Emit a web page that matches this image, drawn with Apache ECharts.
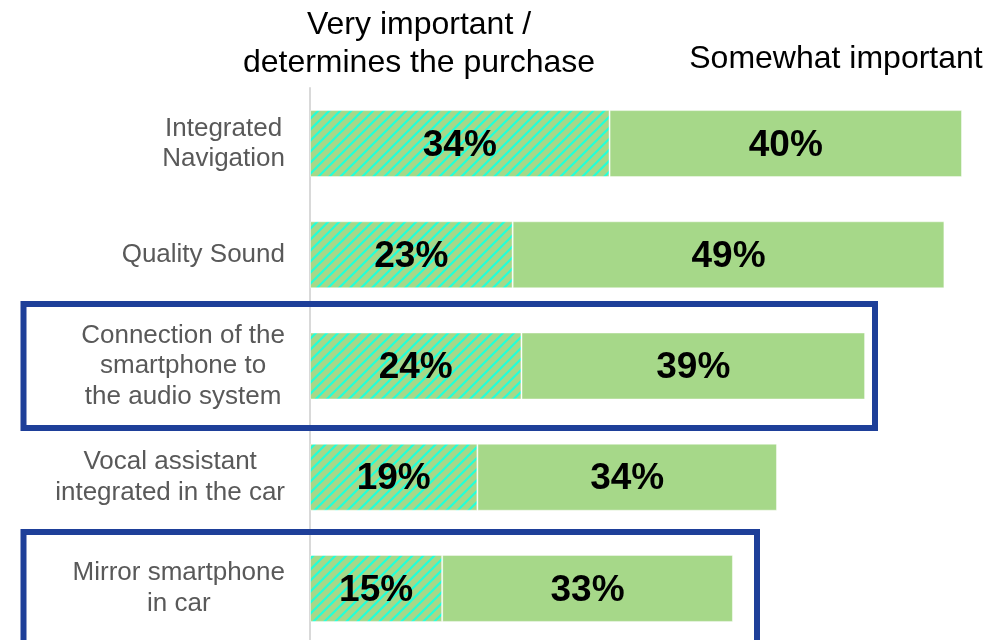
<!DOCTYPE html>
<html>
<head>
<meta charset="utf-8">
<script src="https://cdn.jsdelivr.net/npm/echarts@6/dist/echarts.min.js"></script>
<style>
  html, body { margin: 0; padding: 0; background: #fff; }
  #container { width: 997px; height: 640px; }
</style>
</head>
<body>
<div id="container"></div>
<script>
const features = [
  'Integrated\nNavigation',
  'Quality Sound',
  'Connection of the\nsmartphone to\nthe audio system',
  'Vocal assistant\nintegrated in the car',
  'Mirror smartphone\nin car'
];
const seriesNames = ['Very important /\ndetermines the purchase', 'Somewhat important'];
const veryImportant = [34, 23, 24, 19, 15];
const somewhatImportant = [40, 49, 39, 34, 33];

const GREEN = '#a6d889';
const CYAN = '#22ffd8';
const FONT = '"Liberation Sans", Arial, sans-serif';

// diagonal hatch tile for the first series
const makeHatch = () => {
  const size = 11;
  const c = document.createElement('canvas');
  c.width = size;
  c.height = size;
  const ctx = c.getContext('2d');
  ctx.fillStyle = GREEN;
  ctx.fillRect(0, 0, size, size);
  ctx.strokeStyle = CYAN;
  ctx.lineWidth = 2.2;
  ctx.beginPath();
  ctx.moveTo(-2, size + 2);
  ctx.lineTo(size + 2, -2);
  ctx.moveTo(-2, 2);
  ctx.lineTo(2, -2);
  ctx.moveTo(size - 2, size + 2);
  ctx.lineTo(size + 2, size - 2);
  ctx.stroke();
  return c;
};

const dom = document.getElementById('container');
const myChart = echarts.init(dom);

const barLabel = {
  show: true,
  position: 'inside',
  formatter: '{c}%',
  color: '#000',
  fontFamily: FONT,
  fontWeight: 'bold',
  fontSize: 37,
  offset: [0, 2]
};

const option = {
  animation: false,
  title: [
    {
      text: seriesNames[0],
      left: 419,
      top: 6,
      padding: 0,
      textAlign: 'center',
      textStyle: { fontFamily: FONT, fontWeight: 'normal', fontSize: 32, lineHeight: 38, color: '#000' }
    },
    {
      text: seriesNames[1],
      left: 836,
      top: 43,
      padding: 0,
      textAlign: 'center',
      textStyle: { fontFamily: FONT, fontWeight: 'normal', fontSize: 32, lineHeight: 32, color: '#000' }
    }
  ],
  grid: { left: 310, right: 35, top: 88, height: 556, outerBoundsMode: 'none' },
  xAxis: { type: 'value', min: 0, max: 74, show: false },
  yAxis: {
    type: 'category',
    inverse: true,
    data: features,
    axisTick: { show: false },
    axisLine: { show: true, lineStyle: { color: '#d9d9d9', width: 2 } },
    axisLabel: {
      margin: 25,
      align: 'right',
      formatter: v => v.split('\n').map(l => '{c|' + l + '}').join('\n'),
      rich: {
        c: { align: 'center', fontFamily: FONT, fontSize: 26, lineHeight: 30.5, color: '#595959' }
      }
    }
  },
  series: [
    {
      name: seriesNames[0],
      type: 'bar',
      stack: 'total',
      barWidth: 67,
      data: veryImportant,
      itemStyle: {
        color: { image: makeHatch(), repeat: 'repeat' },
        borderColor: 'rgba(255,255,255,0.45)',
        borderWidth: 1
      },
      label: barLabel
    },
    {
      name: seriesNames[1],
      type: 'bar',
      stack: 'total',
      barWidth: 67,
      data: somewhatImportant,
      itemStyle: { color: GREEN, borderColor: 'rgba(255,255,255,0.45)', borderWidth: 1 },
      label: barLabel
    }
  ],
  graphic: [
    {
      type: 'rect',
      z: 100,
      shape: { x: 23.5, y: 304, width: 851.5, height: 124 },
      style: { fill: 'none', stroke: '#1e3f99', lineWidth: 6 }
    },
    {
      type: 'rect',
      z: 100,
      shape: { x: 23.5, y: 532, width: 733.5, height: 200 },
      style: { fill: 'none', stroke: '#1e3f99', lineWidth: 6 }
    }
  ]
};

myChart.setOption(option);
</script>
</body>
</html>
